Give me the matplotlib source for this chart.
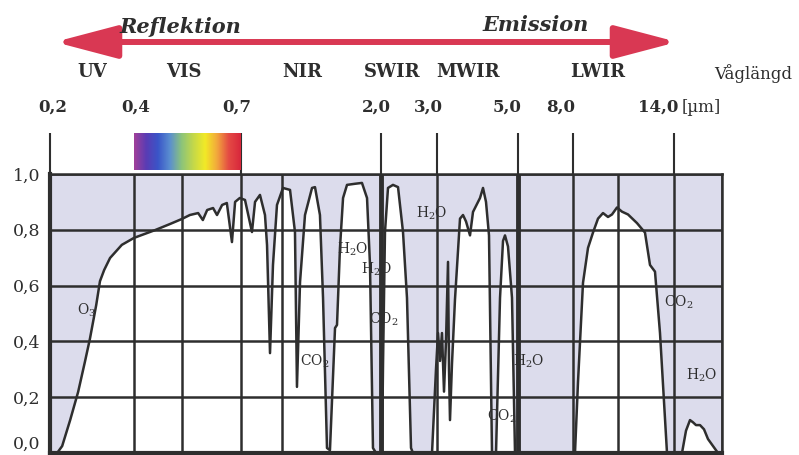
import matplotlib
matplotlib.use("Agg")
import matplotlib.pyplot as plt
import numpy as np
from matplotlib.patches import FancyArrowPatch
from matplotlib.colors import LinearSegmentedColormap

plt.rcParams['font.family'] = ['DejaVu Serif']
plt.rcParams['mathtext.fontset'] = 'dejavuserif'

# wavelength [um] and atmospheric transmission
wl = [0.2, 0.217, 0.229, 0.248, 0.267, 0.283, 0.295, 0.31, 0.319, 0.329, 0.343, 0.371, 0.4, 0.466, 0.513, 0.55,
      0.570, 0.591, 0.603, 0.614, 0.629, 0.639, 0.652, 0.664, 0.677, 0.685, 0.697,
      0.739, 0.807, 0.837, 0.885, 0.934, 0.954, 0.983, 1.012, 1.051, 1.109, 1.173, 1.218, 1.236, 1.264, 1.309, 1.373,
      1.4, 1.445, 1.473, 1.509, 1.536, 1.582, 1.6, 1.627, 1.655, 1.691, 1.764, 1.827, 1.873, 1.9, 1.927, 1.955,
      2.018, 2.036, 2.071, 2.125, 2.214, 2.304, 2.393, 2.464, 2.536, 2.571,
      2.911, 2.982, 3.025, 3.074, 3.123, 3.173, 3.222, 3.272, 3.296, 3.321, 3.37, 3.444, 3.568, 3.642, 3.716,
      3.815, 3.889, 4.062, 4.136, 4.21, 4.284, 4.358,
      4.457, 4.556, 4.63, 4.679, 4.753, 4.852, 4.926,
      8.133, 8.333, 8.667, 9.0, 9.333, 9.667, 10.0, 10.333, 10.6, 10.933, 11.214, 11.536, 12.018, 12.446,
      12.714, 12.982, 13.25, 13.625,
      15.0, 15.5, 16.0, 16.375, 16.75, 17.25, 17.75, 18.25, 18.75, 19.5, 20.0]
trans = [0, 0, 0.025, 0.118, 0.219, 0.326, 0.409, 0.53, 0.616, 0.656, 0.699, 0.746, 0.771, 0.799, 0.821, 0.839,
         0.853, 0.86, 0.835, 0.871, 0.878, 0.853, 0.889, 0.896, 0.756, 0.9, 0.914,
         0.907, 0.792, 0.9, 0.925, 0.853, 0.745, 0.358, 0.674, 0.889, 0.95, 0.943, 0.792, 0.237, 0.613, 0.853, 0.95,
         0.953, 0.853, 0.556, 0.018, 0.01, 0.448, 0.459, 0.735, 0.914, 0.961, 0.965, 0.968, 0.914, 0.674, 0.018, 0,
         0, 0.315, 0.792, 0.95, 0.961, 0.953, 0.792, 0.556, 0.018, 0,
         0, 0.3, 0.43, 0.33, 0.43, 0.22, 0.40, 0.685, 0.3, 0.118, 0.32, 0.55, 0.84, 0.853, 0.83,
         0.78, 0.864, 0.914, 0.95, 0.9, 0.78, 0,
         0, 0.556, 0.76, 0.78, 0.74, 0.556, 0,
         0, 0.254, 0.61, 0.735, 0.79, 0.84, 0.86, 0.846, 0.855, 0.88, 0.865, 0.855, 0.824, 0.79,
         0.674, 0.65, 0.43, 0,
         0, 0.08, 0.118, 0.11, 0.1, 0.1, 0.085, 0.05, 0.03, 0, 0]

tick_wl = [0.2, 0.4, 0.7, 2.0, 3.0, 5.0, 8.0, 14.0]
tick_labels = ["0,2", "0,4", "0,7", "2,0", "3,0", "5,0", "8,0", "14,0"]
grid_wl = [0.2, 0.4, 0.55, 0.7, 1.1, 2.0, 3.0, 5.0, 8.0, 11.0, 14.0, 20.0]
bands = ["UV", "VIS", "NIR", "SWIR", "MWIR", "LWIR"]
y_ticks = [0.0, 0.2, 0.4, 0.6, 0.8, 1.0]
y_labels = ["0,0", "0,2", "0,4", "0,6", "0,8", "1,0"]

# schematic (piecewise) wavelength axis
grid_pos = [0, 84, 132, 191, 232, 331, 387, 468, 523, 568, 624, 672]


def fwd(x):
    return np.interp(x, grid_wl, grid_pos)


def inv(p):
    return np.interp(p, grid_pos, grid_wl)


ink = '#2e2e2e'
lav = '#dcdcec'

fig = plt.figure(figsize=(7.99, 4.55), dpi=100)
ax = fig.add_axes([50/799, 2/455, 672/799, 279/455])
ax.set_xscale('function', functions=(fwd, inv))
ax.set_xlim(0.2, 20)
ax.set_ylim(0, 1)

ax.fill_between(wl, trans, 1.0, color=lav, lw=0, zorder=0)
for g in grid_wl:
    w = 3.5 if g in (2.0, 5.0) else 1.8
    ax.axvline(g, color=ink, lw=w, zorder=1)
for yv in y_ticks:
    ax.axhline(yv, color=ink, lw=1.8, zorder=1)
ax.plot(wl, trans, color=ink, lw=1.8, zorder=3)

# tick lines above the frame
ax.vlines([0.2, 0.7, 2.0, 3.0, 5.0, 8.0, 14.0], 1.0, 1.147, color=ink, lw=1.5, clip_on=False)

ax.set_xticks([])
ax.set_yticks(y_ticks)
ax.set_yticklabels(y_labels, fontsize=12.5, color=ink)
ax.get_yticklabels()[0].set_va('bottom')
ax.tick_params(axis='y', length=0, pad=7)
for s in ax.spines.values():
    s.set_color(ink)
    s.set_linewidth(1.8)
ax.spines['left'].set_linewidth(3)
ax.spines['bottom'].set_linewidth(3)

# molecule labels
mol = [("O$_3$", 0.287, 0.51), ("H$_2$O", 1.74, 0.73), ("H$_2$O", 1.96, 0.66),
       ("CO$_2$", 2.05, 0.48), ("CO$_2$", 1.4, 0.33), ("H$_2$O", 2.9, 0.86),
       ("H$_2$O", 5.6, 0.33), ("CO$_2$", 4.6, 0.13), ("CO$_2$", 14.6, 0.54),
       ("H$_2$O", 17.5, 0.28)]
for t, x, y in mol:
    ax.text(x, y, t, fontsize=10, color=ink, ha='center', va='center', zorder=4)

# spectrum strip for visible light
cax = fig.add_axes([134/799, 1 - 170/455, 107/799, 37/455])
spec = LinearSegmentedColormap.from_list('spec', ['#a0409a', '#5a3cb4', '#3a55c8', '#5a8ed0', '#8cc47a',
                                                  '#c4d84a', '#f2ea26', '#f2a83c', '#e44a44', '#d8283c'])
cax.imshow(np.linspace(0, 1, 200)[None, :], aspect='auto', cmap=spec)
cax.set_axis_off()

# wavelength labels on top
lab_x = [53, 136, 237, 376, 428, 507, 561, 658]
for t, x in zip(tick_labels, lab_x):
    fig.text(x/799, 1 - 107/455, t, fontsize=12, fontweight='bold', color=ink, ha='center', va='center')
fig.text(701/799, 1 - 107/455, "[µm]", fontsize=12, color=ink, ha='center', va='center')

band_x = [92, 184, 302, 392, 468, 598]
for t, x in zip(bands, band_x):
    fig.text(x/799, 1 - 72/455, t, fontsize=13, fontweight='bold', color=ink, ha='center', va='center')
fig.text(753/799, 1 - 74/455, "Våglängd", fontsize=12, color=ink, ha='center', va='center')

# reflection / emission arrow
arr = FancyArrowPatch((52/799, 1 - 42/455), (680/799, 1 - 42/455), transform=fig.transFigure,
                      arrowstyle='<|-|>,head_length=38,head_width=10', mutation_scale=1,
                      color='#d93853', lw=4.3)
fig.patches.append(arr)
fig.text(180/799, 1 - 27/455, "Reflektion", fontsize=15, fontweight='bold', style='italic',
         color=ink, ha='center', va='center')
fig.text(536/799, 1 - 25/455, "Emission", fontsize=15, fontweight='bold', style='italic',
         color=ink, ha='center', va='center')

fig.savefig("out.png", dpi=100)
